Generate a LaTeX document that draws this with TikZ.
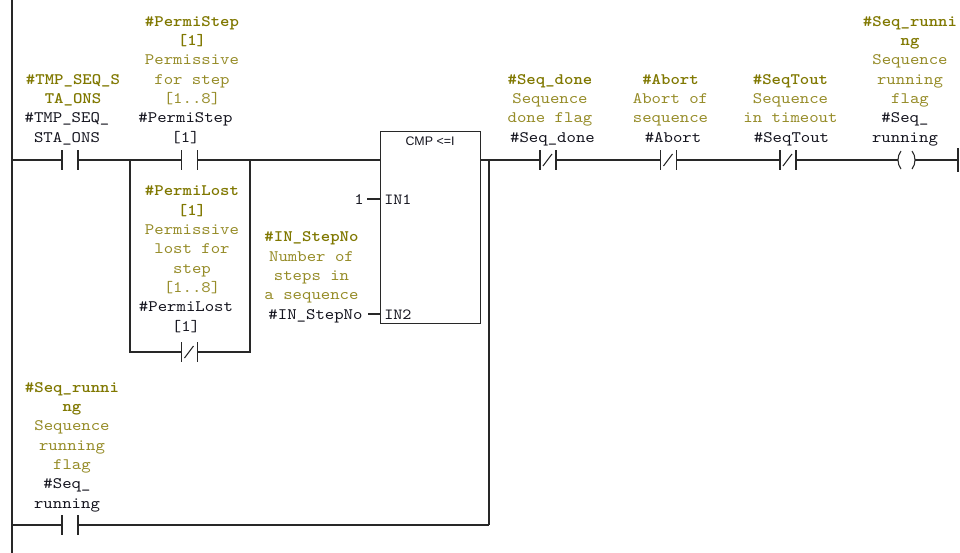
\documentclass[tikz,border=0pt]{standalone}
\usepackage{fontspec}
\newfontfamily\ladmono{lmmono10-regular.otf}[BoldFont=lmmonolt10-bold.otf,FakeStretch=1.12]
\newfontfamily\ladsans{Liberation Sans}
\definecolor{olvb}{RGB}{128,120,0}
\definecolor{olvc}{RGB}{150,140,40}
\definecolor{opk}{RGB}{20,20,30}
\definecolor{wirec}{RGB}{40,40,40}
\newcommand{\lbltab}[1]{\begin{tabular}[b]{@{}c@{}}#1\end{tabular}}
\newcommand{\bn}[1]{{\bfseries\color{olvb}#1}}
\newcommand{\cm}[1]{{\color{olvc}#1}}
\begin{document}
\begin{tikzpicture}[x=0.75pt,y=-0.75pt,
  wire/.style={draw=wirec,line width=0.8pt},
  plate/.style={draw=wirec,line width=1.1pt},
  lbl/.style={font=\ladmono\fontsize{12}{14.5}\selectfont,inner sep=0pt,anchor=base},
  oplbl/.style={lbl,text=opk},
  pics/nocontact/.style={code={
    \coordinate (-l) at (-8,0); \coordinate (-r) at (8,0);
    \draw[plate] (-8,-10) -- (-8,10); \draw[plate] (8,-10) -- (8,10);}},
  pics/nccontact/.style={code={
    \coordinate (-l) at (-8,0); \coordinate (-r) at (8,0);
    \draw[plate] (-8,-10) -- (-8,10); \draw[plate] (8,-10) -- (8,10);
    \draw[wire] (-5,6) -- (4,-6);}},
  pics/coilsym/.style={code={
    \coordinate (-l) at (-8.5,0); \coordinate (-r) at (8.5,0);
    \draw[wire] (-5.5,-9) .. controls (-9.5,-4) and (-9.5,4) .. (-5.5,9);
    \draw[wire] (5.5,-9) .. controls (9.5,-4) and (9.5,4) .. (5.5,9);}}
]
\useasboundingbox[fill=white] (0,0) rectangle (960,553);

% rails and junctions
\coordinate (railT) at (12,0);
\coordinate (railB) at (12,553);
\coordinate (r1) at (12,160);
\coordinate (r2) at (12,525);
\coordinate (bl1) at (130,160);
\coordinate (bl2) at (130,352);
\coordinate (br1) at (250,160);
\coordinate (br2) at (250,352);
\coordinate (in0) at (380,160);
\coordinate (out0) at (480,160);
\coordinate (jr1) at (489,160);
\coordinate (jr2) at (489,525);
\coordinate (rrT) at (958,148);
\coordinate (rrB) at (958,172);
\coordinate (rr) at (958,160);

\draw[wire,line width=1pt] (railT) -- (railB);
\draw[draw=wirec,line width=1.4pt] (rrT) -- (rrB);

% contacts
\pic (c1) at (70,160) {nocontact};
\pic (c2) at (189.5,160) {nocontact};
\pic (c3) at (189.5,352) {nccontact};
\pic (c4) at (548,160) {nccontact};
\pic (c5) at (668.5,160) {nccontact};
\pic (c6) at (788,160) {nccontact};
\pic (coil) at (906.5,160) {coilsym};
\pic (c7) at (70,525) {nocontact};

% compare box
\node (cmp) [draw=wirec,line width=0.8pt,inner sep=0pt,minimum width=75pt,minimum height=144pt,anchor=north west] at (380,131) {};
\node (cmpt) [font=\ladsans\fontsize{9.3}{11}\selectfont,text=opk,inner sep=0pt] at (430,141) {CMP <=I};
\node (in1t) [oplbl,anchor=base west,font=\ladmono\fontsize{11.6}{14}\selectfont] at (384,204) {IN1};
\node (in2t) [oplbl,anchor=base west,font=\ladmono\fontsize{11.6}{14}\selectfont] at (384,319) {IN2};
\node (one) [oplbl,anchor=base east] at (364,204) {1};
\coordinate (one0) at (367,199);
\coordinate (in1p) at (380,199);
\coordinate (stp0) at (368,314);
\coordinate (in2p) at (380,314);

% wires
\draw[wire] (r1) -- (c1-l);
\draw[wire] (c1-r) -- (c2-l);
\draw[wire] (c2-r) -- (in0);
\draw[wire] (bl1) -- (bl2) -- (c3-l);
\draw[wire] (c3-r) -- (br2) -- (br1);
\draw[wire] (one0) -- (in1p);
\draw[wire] (stp0) -- (in2p);
\draw[wire] (out0) -- (c4-l);
\draw[wire] (jr1) -- (jr2);
\draw[wire] (c4-r) -- (c5-l);
\draw[wire] (c5-r) -- (c6-l);
\draw[wire] (c6-r) -- (coil-l);
\draw[wire] (coil-r) -- (rr);
\draw[wire] (r2) -- (c7-l);
\draw[wire] (c7-r) -- (jr2);

% labels: TMP
\node (t1o) [lbl] at (73,103.4) {\lbltab{\bn{\#TMP\_SEQ\_S}\\\bn{TA\_ONS}}};
\node (t1b) [oplbl] at (67,142) {\lbltab{\#TMP\_SEQ\_\\STA\_ONS}};
% PermiStep
\node (t2o) [lbl] at (192,103.4) {\lbltab{\bn{\#PermiStep}\\\bn{[1]}\\\cm{Permissive}\\\cm{for step}\\\cm{[1..8]}}};
\node (t2b) [oplbl] at (185.5,142) {\lbltab{\#PermiStep\\{}[1]}};
% PermiLost
\node (t3o) [lbl] at (192,292.4) {\lbltab{\bn{\#PermiLost}\\\bn{[1]}\\\cm{Permissive}\\\cm{lost for}\\\cm{step}\\\cm{[1..8]}}};
\node (t3b) [oplbl] at (186,331) {\lbltab{\#PermiLost\\{}[1]}};
% IN_StepNo
\node (t4o) [lbl] at (311.5,299.7) {\lbltab{\bn{\#IN\_StepNo}\\\cm{Number of}\\\cm{steps in}\\\cm{a sequence}}};
\node (t4b) [oplbl] at (315.5,319) {\#IN\_StepNo};
% Seq_done
\node (t5o) [lbl] at (550,122.7) {\lbltab{\bn{\#Seq\_done}\\\cm{Sequence}\\\cm{done flag}}};
\node (t5b) [oplbl] at (552.5,142) {\#Seq\_done};
% Abort
\node (t6o) [lbl] at (670.5,122.7) {\lbltab{\bn{\#Abort}\\\cm{Abort of}\\\cm{sequence}}};
\node (t6b) [oplbl] at (673,142) {\#Abort};
% SeqTout
\node (t7o) [lbl] at (790.5,122.7) {\lbltab{\bn{\#SeqTout}\\\cm{Sequence}\\\cm{in timeout}}};
\node (t7b) [oplbl] at (791.5,142) {\#SeqTout};
% coil label
\node (t8o) [lbl] at (910,103.4) {\lbltab{\bn{\#Seq\_runni}\\\bn{ng}\\\cm{Sequence}\\\cm{running}\\\cm{flag}}};
\node (t8b) [oplbl] at (905,142) {\lbltab{\#Seq\_\\running}};
% bottom contact label
\node (t9o) [lbl] at (72,469.4) {\lbltab{\bn{\#Seq\_runni}\\\bn{ng}\\\cm{Sequence}\\\cm{running}\\\cm{flag}}};
\node (t9b) [oplbl] at (67,508) {\lbltab{\#Seq\_\\running}};
\end{tikzpicture}
\end{document}
